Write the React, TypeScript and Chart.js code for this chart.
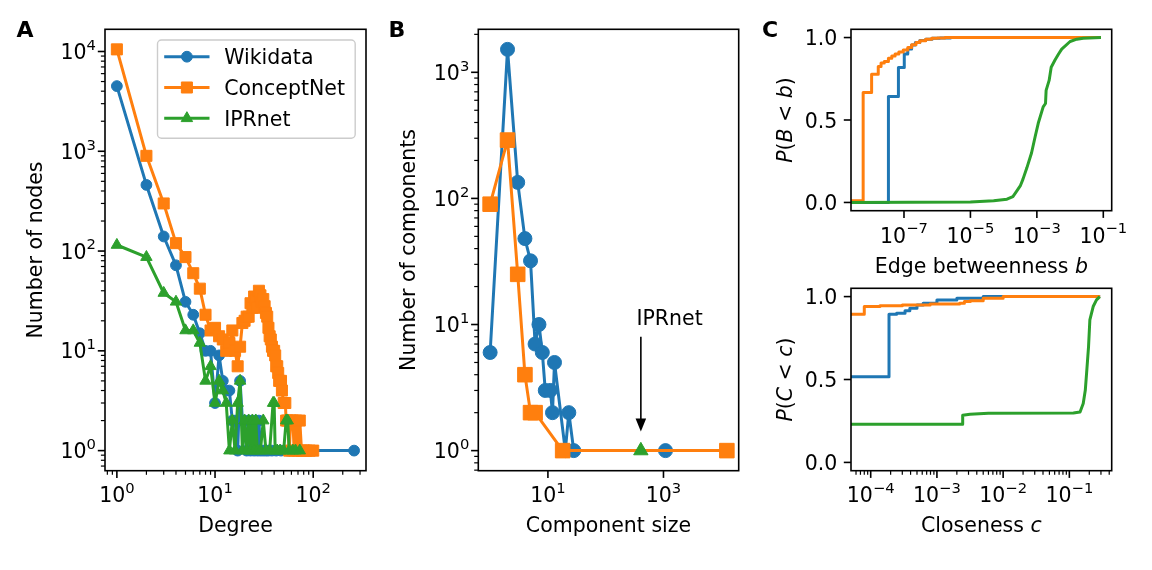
import React, { useEffect, useRef } from 'react';
import { Chart, registerables } from 'chart.js';

Chart.register(...registerables);

const FAMILY = '"DejaVu Sans", "Liberation Sans", sans-serif';
const FS = 20.5;
const BLUE = '#1f77b4';
const ORANGE = '#ff7f0e';
const GREEN = '#2ca02c';
const seriesNames = ['Wikidata', 'ConceptNet', 'IPRnet'];

// ---------- Panel A: degree distribution ----------
const wikidataDegree = [1, 2, 3, 4, 5, 6, 7, 8, 9, 10, 11, 12, 13, 14, 15, 16, 17, 18, 19, 20, 21, 22, 23, 24, 25, 26, 27, 28, 29, 31, 33, 35, 38, 42, 47, 55, 70, 90, 261];
const wikidataNodes = [4500, 460, 140, 72, 31, 23, 15, 10, 10, 3, 9, 5, 4, 4, 2, 2, 1, 5, 2, 2, 1, 2, 1, 2, 1, 2, 1, 2, 1, 1, 1, 1, 1, 1, 1, 1, 1, 1, 1];
const conceptnetDegree = [1, 2, 3, 4, 5, 6, 7, 8, 9, 10, 11, 12, 13, 14, 15, 16, 17, 18, 19, 20, 21, 22, 23, 24, 25, 26, 27, 28, 29, 30, 31, 32, 33, 34, 35, 36, 37, 38, 39, 40, 41, 42, 43, 44, 45, 47, 48, 50, 52, 53, 55, 57, 59, 62, 64, 67, 70, 73, 76, 80, 85, 92, 100];
const conceptnetNodes = [10500, 900, 300, 120, 87, 60, 42, 23, 16, 17, 14, 13, 10, 12, 16, 10, 7, 11, 19, 20, 22, 22, 30, 27, 35, 32, 27, 40, 36, 31, 33, 28, 24, 22, 17, 14, 13, 11, 10, 10, 9, 7, 7, 6, 5, 5, 4, 3, 3, 2, 2, 1, 2, 2, 1, 2, 1, 2, 1, 1, 1, 1, 1];
const iprnetDegree = [1, 2, 3, 4, 5, 6, 7, 8, 9, 10, 11, 12, 13, 14, 15, 16, 17, 18, 19, 20, 21, 22, 23, 24, 25, 26, 27, 29, 31, 33, 36, 39, 40, 41, 43, 46, 50, 53, 55, 57, 62, 66, 73];
const iprnetNodes = [115, 87, 38, 31, 16, 16, 12, 5, 7, 3, 5, 4, 3, 1, 2, 1, 3, 5, 1, 2, 1, 2, 1, 2, 1, 2, 1, 1, 2, 1, 1, 3, 3, 1, 1, 1, 1, 2, 2, 1, 1, 1, 1];
const degreeTicks = [1, 10, 100];
const degreeTickLabels = ['10^0', '10^1', '10^2'];
const nodeTicks = [1, 10, 100, 1000, 10000];
const nodeTickLabels = ['10^0', '10^1', '10^2', '10^3', '10^4'];

// ---------- Panel B: component sizes ----------
const wikidataSize = [1, 2, 3, 4, 5, 6, 7, 8, 9, 11, 12, 13, 20, 23, 28, 1084];
const wikidataComponents = [6, 1520, 134, 48, 32, 7, 10, 6, 3, 3, 2, 5, 1, 2, 1, 1];
const conceptnetSize = [1, 2, 3, 4, 5, 6, 18, 12500];
const conceptnetComponents = [90, 290, 25, 4, 2, 2, 1, 1];
const iprnetSize = [406];
const iprnetComponents = [1];
const sizeTicks = [10, 1000];
const sizeTickLabels = ['10^1', '10^3'];
const componentTicks = [1, 10, 100, 1000];
const componentTickLabels = ['10^0', '10^1', '10^2', '10^3'];
const annotationText = 'IPRnet';
const annotationArrowX = 406;
const annotationArrowFrom = 8;
const annotationArrowTo = 1.42;
const annotationTextX = 340;
const annotationTextY = 10;

// ---------- Panel C top: edge betweenness CDF ----------
const betweennessWikidata = [2.54e-9, 3.4e-8, 6.8e-8, 1.02e-7, 1.3e-7, 1.7e-7, 2.2e-7, 3e-7, 4.5e-7, 7e-7, 1.2e-6, 2.5e-6, 1e-5, 1e-3, 8.5e-2];
const betweennessWikidataP = [0, 0.642, 0.818, 0.9, 0.93, 0.955, 0.97, 0.982, 0.99, 0.996, 0.998, 1.0, 1.0, 1.0, 1.0];
const betweennessConceptnet = [2.54e-9, 5.9e-9, 1.06e-8, 1.68e-8, 2.04e-8, 2.55e-8, 3.4e-8, 4.3e-8, 5.4e-8, 7e-8, 9.5e-8, 1.3e-7, 1.7e-7, 2.3e-7, 3e-7, 4.5e-7, 6.8e-7, 1e-6, 1.7e-6, 1e-5, 8.5e-2];
const betweennessConceptnetP = [0.01, 0.667, 0.778, 0.824, 0.845, 0.855, 0.875, 0.888, 0.9, 0.912, 0.925, 0.94, 0.956, 0.97, 0.98, 0.99, 0.996, 0.998, 1.0, 1.0, 1.0];
const betweennessIprnet = [2.54e-9, 1e-5, 5e-5, 1.26e-4, 1.9e-4, 2.5e-4, 3.16e-4, 3.8e-4, 5e-4, 6.9e-4, 8.9e-4, 1.1e-3, 1.55e-3, 1.82e-3, 1.9e-3, 2.34e-3, 2.7e-3, 3.55e-3, 4.5e-3, 5.6e-3, 1e-2, 1.6e-2, 2.5e-2, 8.5e-2];
const betweennessIprnetP = [0, 0.003, 0.01, 0.02, 0.036, 0.07, 0.1, 0.14, 0.21, 0.3, 0.4, 0.48, 0.58, 0.6, 0.68, 0.74, 0.82, 0.865, 0.9, 0.93, 0.976, 0.99, 0.996, 1.0];
const betweennessTicks = [1e-7, 1e-5, 1e-3, 1e-1];
const betweennessTickLabels = ['10^\u22127', '10^\u22125', '10^\u22123', '10^\u22121'];

// ---------- Panel C bottom: closeness CDF ----------
const closenessWikidata = [5.04e-5, 1.89e-4, 2.46e-4, 3.3e-4, 3.9e-4, 5e-4, 6.2e-4, 1e-3, 2e-3, 5e-3, 0.292];
const closenessWikidataP = [0.516, 0.894, 0.9, 0.915, 0.93, 0.95, 0.96, 0.98, 0.99, 1.0, 1.0];
const closenessConceptnet = [5.04e-5, 8e-5, 1.38e-4, 3e-4, 7.9e-4, 2.2e-3, 2.6e-3, 3.2e-3, 5e-3, 1e-2, 0.292];
const closenessConceptnetP = [0.894, 0.94, 0.945, 0.95, 0.955, 0.96, 0.97, 0.975, 0.99, 1.0, 1.0];
const closenessIprnet = [5.04e-5, 2.45e-3, 2.45e-3, 3.16e-3, 6e-3, 0.115, 0.145, 0.162, 0.174, 0.182, 0.195, 0.204, 0.229, 0.257, 0.288];
const closenessIprnetP = [0.23, 0.23, 0.284, 0.29, 0.297, 0.298, 0.304, 0.355, 0.435, 0.537, 0.7, 0.86, 0.94, 0.98, 1.0];
const closenessTicks = [1e-4, 1e-3, 1e-2, 1e-1];
const closenessTickLabels = ['10^\u22124', '10^\u22123', '10^\u22122', '10^\u22121'];

const probTicks = [0, 0.5, 1];
const probTickLabels = ['0.0', '0.5', '1.0'];

// ---------- drawing helpers ----------
type Seg = { t: string; it?: boolean };
interface AxisSpec { ticks: number[]; labels: string[]; minor: boolean }
interface FigSpec {
  x: AxisSpec;
  y: AxisSpec;
  xTitle: Seg[];
  yTitle: Seg[];
  xTitleBaseline: number;
  yTitleBaseline: number;
  xLabelOffset: number;
  yLabelGap: number;
  letter: { text: string; x: number; y: number };
  legend?: boolean;
  annotation?: boolean;
}

const font = (size: number, italic = false, bold = false) =>
  `${italic ? 'italic ' : ''}${bold ? 'bold ' : ''}${size}px ${FAMILY}`;

function minorValues(min: number, max: number): number[] {
  const out: number[] = [];
  for (let e = Math.floor(Math.log10(min)); e <= Math.ceil(Math.log10(max)); e++) {
    for (let m = 2; m <= 9; m++) {
      const v = m * Math.pow(10, e);
      if (v >= min && v <= max) out.push(v);
    }
  }
  return out;
}

function segWidth(ctx: CanvasRenderingContext2D, segs: Seg[]) {
  let w = 0;
  for (const s of segs) {
    ctx.font = font(FS, !!s.it);
    w += ctx.measureText(s.t).width;
  }
  return w;
}

function drawSegs(ctx: CanvasRenderingContext2D, segs: Seg[], x: number, y: number) {
  let cx = x;
  for (const s of segs) {
    ctx.font = font(FS, !!s.it);
    ctx.fillText(s.t, cx, y);
    cx += ctx.measureText(s.t).width;
  }
}

function drawTickLabel(ctx: CanvasRenderingContext2D, label: string, x: number, y: number, align: 'center' | 'right') {
  const [b, e] = label.split('^');
  ctx.font = font(FS);
  const wb = ctx.measureText(b).width;
  let we = 0;
  if (e) {
    ctx.font = font(FS * 0.72);
    we = ctx.measureText(e).width;
  }
  const tot = wb + we;
  const x0 = align === 'center' ? x - tot / 2 : x - tot;
  ctx.font = font(FS);
  ctx.fillText(b, x0, y);
  if (e) {
    ctx.font = font(FS * 0.72);
    ctx.fillText(e, x0 + wb, y - 0.45 * FS);
  }
}

function drawMarker(ctx: CanvasRenderingContext2D, style: string, x: number, y: number, r: number, color: string) {
  ctx.fillStyle = color;
  ctx.strokeStyle = color;
  ctx.lineWidth = 1;
  ctx.beginPath();
  if (style === 'circle') {
    ctx.arc(x, y, r, 0, Math.PI * 2);
  } else if (style === 'rect') {
    const s = Math.SQRT1_2 * r;
    ctx.rect(x - s, y - s, 2 * s, 2 * s);
  } else {
    ctx.moveTo(x, y - r);
    ctx.lineTo(x + 0.866 * r, y + 0.5 * r);
    ctx.lineTo(x - 0.866 * r, y + 0.5 * r);
    ctx.closePath();
  }
  ctx.fill();
  ctx.stroke();
}

function makePlugin(spec: FigSpec) {
  return {
    id: 'figAxes',
    afterDatasetsDraw(chart: any) {
      const ctx = chart.ctx as CanvasRenderingContext2D;
      const { left, right, top, bottom } = chart.chartArea;
      const xs = chart.scales.x;
      const ys = chart.scales.y;
      ctx.save();
      ctx.strokeStyle = '#000';
      ctx.fillStyle = '#000';
      // spines
      ctx.lineWidth = 1.6;
      ctx.strokeRect(left, top, right - left, bottom - top);
      // ticks
      const tick = (x1: number, y1: number, x2: number, y2: number, w: number) => {
        ctx.lineWidth = w;
        ctx.beginPath();
        ctx.moveTo(x1, y1);
        ctx.lineTo(x2, y2);
        ctx.stroke();
      };
      for (const v of spec.x.ticks) {
        const p = xs.getPixelForValue(v);
        tick(p, bottom, p, bottom + 7.2, 1.6);
      }
      if (spec.x.minor) for (const v of minorValues(xs.min, xs.max)) {
        const p = xs.getPixelForValue(v);
        tick(p, bottom, p, bottom + 4.1, 1.2);
      }
      for (const v of spec.y.ticks) {
        const p = ys.getPixelForValue(v);
        tick(left, p, left - 7.2, p, 1.6);
      }
      if (spec.y.minor) for (const v of minorValues(ys.min, ys.max)) {
        const p = ys.getPixelForValue(v);
        tick(left, p, left - 4.1, p, 1.2);
      }
      // tick labels
      ctx.textBaseline = 'alphabetic';
      ctx.textAlign = 'left';
      spec.x.ticks.forEach((v, i) =>
        drawTickLabel(ctx, spec.x.labels[i], xs.getPixelForValue(v), bottom + spec.xLabelOffset, 'center'));
      spec.y.ticks.forEach((v, i) =>
        drawTickLabel(ctx, spec.y.labels[i], left - spec.yLabelGap, ys.getPixelForValue(v) + 7.5, 'right'));
      // axis titles
      const wx = segWidth(ctx, spec.xTitle);
      drawSegs(ctx, spec.xTitle, (left + right) / 2 - wx / 2, spec.xTitleBaseline);
      ctx.save();
      ctx.translate(spec.yTitleBaseline, (top + bottom) / 2);
      ctx.rotate(-Math.PI / 2);
      const wy = segWidth(ctx, spec.yTitle);
      drawSegs(ctx, spec.yTitle, -wy / 2, 0);
      ctx.restore();
      // panel letter
      ctx.font = font(22, false, true);
      ctx.fillText(spec.letter.text, spec.letter.x, spec.letter.y);

      if (spec.legend) {
        const w = 197.7, h = 98.3;
        const bx = right - 10.8 - w;
        const by = top + 10.7;
        ctx.beginPath();
        ctx.roundRect(bx, by, w, h, 4);
        ctx.fillStyle = 'rgba(255,255,255,0.8)';
        ctx.fill();
        ctx.strokeStyle = '#cccccc';
        ctx.lineWidth = 1.4;
        ctx.stroke();
        const dsets = chart.data.datasets;
        dsets.forEach((d: any, i: number) => {
          const cy = by + 16.7 + i * 30.8;
          ctx.strokeStyle = d.borderColor;
          ctx.lineWidth = d.borderWidth;
          ctx.beginPath();
          ctx.moveTo(bx + 6.7, cy);
          ctx.lineTo(bx + 52, cy);
          ctx.stroke();
          drawMarker(ctx, d.pointStyle, bx + 29.4, cy, d.pointRadius, d.borderColor);
          ctx.fillStyle = '#000';
          ctx.font = font(FS);
          ctx.fillText(d.label, bx + 66.7, cy + 7.5);
        });
      }

      if (spec.annotation) {
        const ax = xs.getPixelForValue(annotationArrowX);
        const y1 = ys.getPixelForValue(annotationArrowFrom);
        const y2 = ys.getPixelForValue(annotationArrowTo);
        ctx.strokeStyle = '#000';
        ctx.fillStyle = '#000';
        ctx.lineWidth = 1.6;
        ctx.beginPath();
        ctx.moveTo(ax, y1);
        ctx.lineTo(ax, y2 - 10);
        ctx.stroke();
        ctx.beginPath();
        ctx.moveTo(ax, y2);
        ctx.lineTo(ax - 5.3, y2 - 13);
        ctx.lineTo(ax + 5.3, y2 - 13);
        ctx.closePath();
        ctx.fill();
        ctx.font = font(FS);
        ctx.fillText(annotationText, xs.getPixelForValue(annotationTextX), ys.getPixelForValue(annotationTextY));
      }
      ctx.restore();
    },
  };
}

function series(label: string, xs: number[], ys: number[], color: string, style: string, radius: number, order: number, extra: any = {}) {
  return {
    label,
    data: xs.map((x, i) => ({ x, y: ys[i] })),
    showLine: true,
    borderColor: color,
    backgroundColor: color,
    borderWidth: 3,
    pointStyle: style,
    pointRadius: radius,
    pointHoverRadius: radius,
    pointBackgroundColor: color,
    pointBorderColor: color,
    pointBorderWidth: 1,
    tension: 0,
    borderJoinStyle: 'round',
    order,
    ...extra,
  };
}

const logScale = (min: number, max: number) => ({ type: 'logarithmic', min, max, display: false, bounds: 'data' });
const linScale = (min: number, max: number) => ({ type: 'linear', min, max, display: false, bounds: 'data' });

function config(datasets: any[], x: any, y: any, padding: any, spec: FigSpec): any {
  return {
    type: 'scatter',
    data: { datasets },
    options: {
      responsive: false,
      animation: false,
      events: [],
      layout: { padding },
      plugins: { legend: { display: false }, tooltip: { enabled: false } },
      scales: { x, y },
    },
    plugins: [makePlugin(spec)],
  };
}

const W = 1152;
const H = 570;

function buildConfigs() {
  const panelA = config(
    [
      series(seriesNames[0], wikidataDegree, wikidataNodes, BLUE, 'circle', 5.4, 3),
      series(seriesNames[1], conceptnetDegree, conceptnetNodes, ORANGE, 'rect', 7.8, 2),
      series(seriesNames[2], iprnetDegree, iprnetNodes, GREEN, 'triangle', 6.6, 1),
    ],
    logScale(0.757, 345),
    logScale(0.629, 16690),
    { left: 105, top: 29.3, right: W - 366, bottom: H - 470.7 },
    {
      x: { ticks: degreeTicks, labels: degreeTickLabels, minor: true },
      y: { ticks: nodeTicks, labels: nodeTickLabels, minor: true },
      xTitle: [{ t: 'Degree' }],
      yTitle: [{ t: 'Number of nodes' }],
      xTitleBaseline: 531.7,
      yTitleBaseline: 41.7,
      xLabelOffset: 31.6,
      yLabelGap: 9,
      letter: { text: 'A', x: 16.5, y: 37 },
      legend: true,
    },
  );
  const panelB = config(
    [
      series(seriesNames[0], wikidataSize, wikidataComponents, BLUE, 'circle', 7, 3),
      series(seriesNames[1], conceptnetSize, conceptnetComponents, ORANGE, 'rect', 10.3, 2),
      series(seriesNames[2], iprnetSize, iprnetComponents, GREEN, 'triangle', 8.3, 1),
    ],
    logScale(0.624, 20040),
    logScale(0.693, 2193),
    { left: 478.3, top: 29.3, right: W - 738.7, bottom: H - 470.7 },
    {
      x: { ticks: sizeTicks, labels: sizeTickLabels, minor: false },
      y: { ticks: componentTicks, labels: componentTickLabels, minor: true },
      xTitle: [{ t: 'Component size' }],
      yTitle: [{ t: 'Number of components' }],
      xTitleBaseline: 531.7,
      yTitleBaseline: 415,
      xLabelOffset: 31.6,
      yLabelGap: 9,
      letter: { text: 'B', x: 388.5, y: 37 },
      annotation: true,
    },
  );
  const cdfSpecY = { ticks: probTicks, labels: probTickLabels, minor: false };
  const panelC1 = config(
    [
      series(seriesNames[0], betweennessWikidata, betweennessWikidataP, BLUE, 'circle', 0, 3, { stepped: 'before' }),
      series(seriesNames[1], betweennessConceptnet, betweennessConceptnetP, ORANGE, 'rect', 0, 2, { stepped: 'before' }),
      series(seriesNames[2], betweennessIprnet, betweennessIprnetP, GREEN, 'triangle', 0, 1),
    ],
    logScale(2.54e-9, 0.179),
    linScale(-0.05, 1.05),
    { left: 851, top: 29.3, right: W - 1111.7, bottom: H - 210.7 },
    {
      x: { ticks: betweennessTicks, labels: betweennessTickLabels, minor: false },
      y: cdfSpecY,
      xTitle: [{ t: 'Edge betweenness ' }, { t: 'b', it: true }],
      yTitle: [{ t: 'P', it: true }, { t: '(' }, { t: 'B', it: true }, { t: ' < ' }, { t: 'b', it: true }, { t: ')' }],
      xTitleBaseline: 273.3,
      yTitleBaseline: 791.7,
      xLabelOffset: 32,
      yLabelGap: 13.7,
      letter: { text: 'C', x: 762, y: 37 },
    },
  );
  const panelC2 = config(
    [
      series(seriesNames[0], closenessWikidata, closenessWikidataP, BLUE, 'circle', 0, 3, { stepped: 'before' }),
      series(seriesNames[1], closenessConceptnet, closenessConceptnetP, ORANGE, 'rect', 0, 2, { stepped: 'before' }),
      series(seriesNames[2], closenessIprnet, closenessIprnetP, GREEN, 'triangle', 0, 1),
    ],
    logScale(5.04e-5, 0.436),
    linScale(-0.05, 1.05),
    { left: 851, top: 288.3, right: W - 1111.7, bottom: H - 470.7 },
    {
      x: { ticks: closenessTicks, labels: closenessTickLabels, minor: true },
      y: cdfSpecY,
      xTitle: [{ t: 'Closeness ' }, { t: 'c', it: true }],
      yTitle: [{ t: 'P', it: true }, { t: '(' }, { t: 'C', it: true }, { t: ' < ' }, { t: 'c', it: true }, { t: ')' }],
      xTitleBaseline: 532.3,
      yTitleBaseline: 791.7,
      xLabelOffset: 31.6,
      yLabelGap: 13.7,
      letter: { text: '', x: 0, y: 0 },
    },
  );
  return [panelA, panelB, panelC1, panelC2];
}

export default function App() {
  const r0 = useRef<HTMLCanvasElement>(null);
  const r1 = useRef<HTMLCanvasElement>(null);
  const r2 = useRef<HTMLCanvasElement>(null);
  const r3 = useRef<HTMLCanvasElement>(null);
  const refs = [r0, r1, r2, r3];

  useEffect(() => {
    const cfgs = buildConfigs();
    const charts = cfgs.map((c, i) => new Chart(refs[i].current as HTMLCanvasElement, c));
    return () => charts.forEach((c) => c.destroy());
  }, []);

  return (
    <div style={{ position: 'absolute', left: 0, top: 0, width: W, height: H, background: '#ffffff', overflow: 'hidden' }}>
      {refs.map((r, i) => (
        <canvas key={i} ref={r} width={W} height={H} style={{ position: 'absolute', left: 0, top: 0, width: W, height: H }} />
      ))}
    </div>
  );
}
